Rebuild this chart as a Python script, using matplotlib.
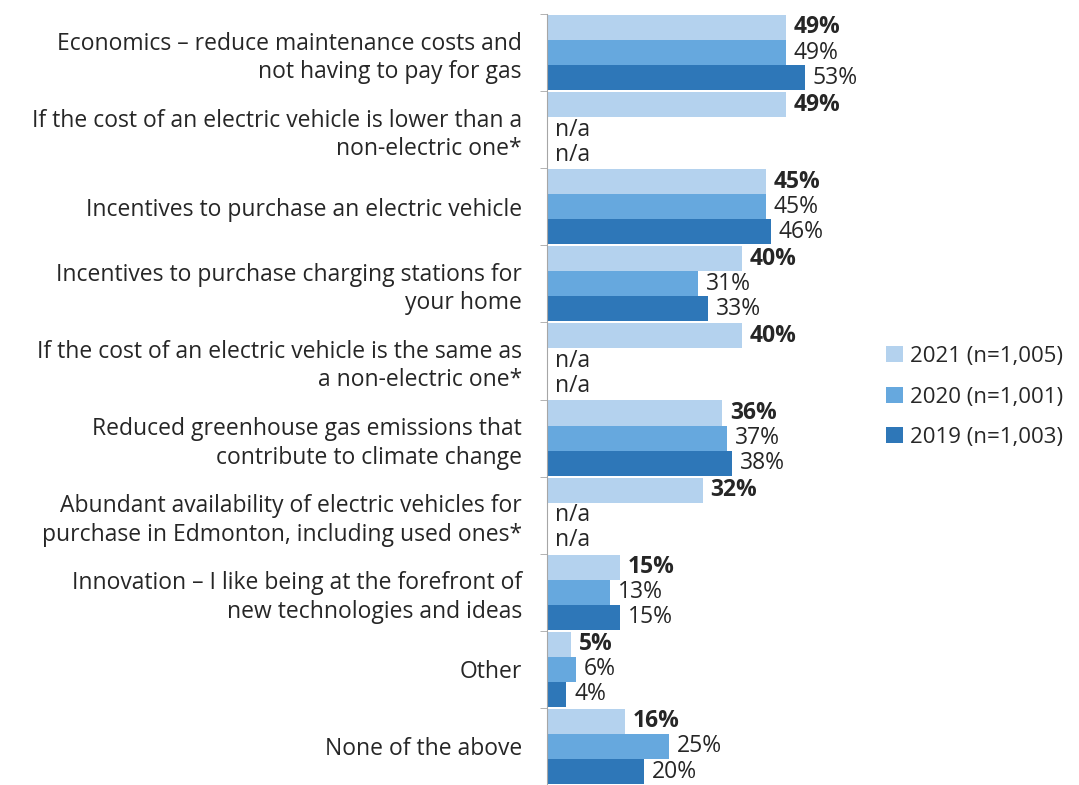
import numpy as np
import matplotlib
matplotlib.use('Agg')
import matplotlib.pyplot as plt
from matplotlib.patches import Patch

# ── data ─────────────────────────────────────────────────────────────────────
categories = [
    'Economics – reduce maintenance costs and\nnot having to pay for gas',
    'If the cost of an electric vehicle is lower than a\nnon-electric one*',
    'Incentives to purchase an electric vehicle',
    'Incentives to purchase charging stations for\nyour home',
    'If the cost of an electric vehicle is the same as\na non-electric one*',
    'Reduced greenhouse gas emissions that\ncontribute to climate change',
    'Abundant availability of electric vehicles for\npurchase in Edmonton, including used ones*',
    'Innovation – I like being at the forefront of\nnew technologies and ideas',
    'Other',
    'None of the above',
]
vals_2021 = [49, 49, 45, 40, 40, 36, 32, 15, 5, 16]
vals_2020 = [49, None, 45, 31, None, 37, None, 13, 6, 25]
vals_2019 = [53, None, 46, 33, None, 38, None, 15, 4, 20]
series_labels = ['2021 (n=1,005)', '2020 (n=1,001)', '2019 (n=1,003)']

# ── style ────────────────────────────────────────────────────────────────────
C21 = '#B4D2EE'
C20 = '#66A8DE'
C19 = '#2E77B8'
TXT = '#262626'
FS = 16.5
plt.rcParams['font.family'] = ['Open Sans', 'DejaVu Sans']

fig = plt.figure(figsize=(10.79, 7.85), dpi=100)
ax = fig.add_axes([547 / 1079, 0.0, (870 - 547) / 1079, (785 - 14) / 785])

n = len(categories)
bh = 0.325
series = [(vals_2021, C21, 'bold'), (vals_2020, C20, 'normal'), (vals_2019, C19, 'normal')]
for k, (vals, col, fw) in enumerate(series):
    ys = np.arange(n) + (k - 1) * bh
    for y, v in zip(ys, vals):
        if v is None:
            ax.text(1.6, y, 'n/a', va='center', ha='left', fontsize=FS,
                    color=TXT)
            continue
        ax.barh(y, v, height=bh, color=col, edgecolor='none')
        ax.text(v + 1.6, y, f'{v}%', va='center', ha='left', fontsize=FS,
                fontweight=fw, color=TXT)

ax.set_xlim(0, 323 / 4.87)
ax.set_ylim(n - 0.5, -0.5)
ax.set_xticks([])
ax.set_yticks(np.arange(n))
ax.set_yticklabels(categories, fontsize=FS, color=TXT, linespacing=1.25)
ax.tick_params(axis='y', length=0, pad=18)
# small separator ticks at group boundaries
ax.set_yticks(np.arange(n + 1) - 0.5, minor=True)
ax.tick_params(axis='y', which='minor', length=5, color='#A6A6A6', direction='out')
for s in ['top', 'right', 'bottom']:
    ax.spines[s].set_visible(False)
ax.spines['left'].set_color('#A6A6A6')

handles = [Patch(facecolor=c, edgecolor='none') for c in (C21, C20, C19)]
fig.legend(handles, series_labels, loc='center left', bbox_to_anchor=(886 / 1079, 1 - 397 / 785),
           frameon=False, fontsize=16, handlelength=0.75, handleheight=0.75,
           handletextpad=0.35, labelspacing=0.88, labelcolor=TXT,
           borderpad=0, borderaxespad=0)

plt.savefig('out.png', dpi=100)
